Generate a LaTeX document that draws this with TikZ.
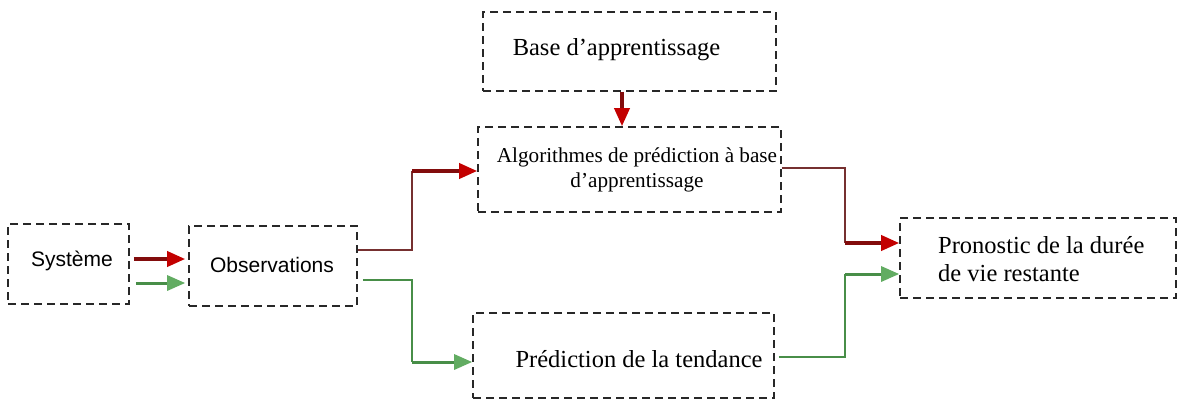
\documentclass[tikz,border=0pt]{standalone}
\usepackage{fontspec}
\setmainfont{Liberation Serif}
\setsansfont{Liberation Sans}
\usetikzlibrary{arrows.meta}
\definecolor{lnred}{RGB}{118,48,48}
\definecolor{thkred}{RGB}{130,12,12}
\definecolor{tipred}{RGB}{195,0,0}
\definecolor{lngreen}{RGB}{72,142,72}
\definecolor{tipgreen}{RGB}{98,172,98}
\definecolor{boxgray}{RGB}{40,40,40}
\tikzset{
  dbox/.style={draw=boxgray, line width=1.6pt, dash pattern=on 8pt off 5pt, inner sep=0pt},
  serif/.style={font=\fontsize{24.5}{28}\selectfont\rmfamily, align=left, inner sep=0pt},
  sans/.style={font=\fontsize{21}{25}\selectfont\sffamily, inner sep=0pt},
  redthin/.style={draw=lnred, line width=1.8pt},
  redarrow/.style={draw=thkred, line width=3.6pt, -{Triangle[length=18pt,width=15pt,color=tipred]}},
  greenthin/.style={draw=lngreen, line width=1.8pt},
  greenarrow/.style={draw=lngreen, line width=3pt, -{Triangle[length=18pt,width=15pt,color=tipgreen]}}
}
\begin{document}
\begin{tikzpicture}[x=1pt,y=-1pt]
\useasboundingbox (0,0) rectangle (1185,400);

% boxes
\node[dbox, minimum width=121pt, minimum height=80pt] (sys) at (68.5,264) {};
\node[dbox, minimum width=168pt, minimum height=80pt] (obs) at (273,266) {};
\node[dbox, minimum width=293pt, minimum height=79pt] (base) at (629.5,51.5) {};
\node[dbox, minimum width=303pt, minimum height=85pt] (algo) at (629.5,169.5) {};
\node[dbox, minimum width=301pt, minimum height=85pt] (trend) at (623.5,355.5) {};
\node[dbox, minimum width=276pt, minimum height=80pt] (prono) at (1038,258) {};

% texts
\node[sans] (tsys) at (72,261) {Système};
\node[sans] (tobs) at (272,265) {Observations};
\node[serif] (tbase) at (616.5,50) {Base d’apprentissage};
\node[serif, font=\fontsize{21.2}{25}\selectfont\rmfamily, align=center] (talgo) at (637,170) {Algorithmes de prédiction à base\\d’apprentissage};
\node[serif] (ttrend) at (639,359) {Prédiction de la tendance};
\node[serif, anchor=west] (tprono) at (938,259) {Pronostic de la durée\\de vie restante};

% bend points
\coordinate (k1) at (412,171);
\coordinate (k2) at (412,362);
\coordinate (k3) at (845,243);
\coordinate (k4) at (845,274);

% Systeme -> Observations
\draw[redarrow] ([xshift=4pt,yshift=5pt]sys.east) -- ([xshift=-3pt,yshift=7pt]obs.west);
\draw[greenarrow] ([xshift=6pt,yshift=-19pt]sys.east) -- ([xshift=-3pt,yshift=-17pt]obs.west);

% Observations -> Algorithmes
\draw[redthin] ([yshift=16pt]obs.east) -| (k1);
\draw[redarrow] (k1) -- (algo.west |- k1);

% Observations -> tendance
\draw[greenthin] ([xshift=5pt,yshift=-14pt]obs.east) -| (k2);
\draw[greenarrow] (k2) -- (trend.west |- k2);

% Base -> Algorithmes
\draw[redarrow] ([xshift=-7.5pt]base.south) -- ([xshift=-7.5pt]algo.north);

% Algorithmes -> Pronostic
\draw[redthin] ([yshift=1.5pt]algo.east) -| (k3);
\draw[redarrow] (k3) -- (prono.west |- k3);

% tendance -> Pronostic
\draw[greenthin] ([xshift=4pt,yshift=-1.5pt]trend.east) -| (k4);
\draw[greenarrow] (k4) -- (prono.west |- k4);
\end{tikzpicture}
\end{document}
